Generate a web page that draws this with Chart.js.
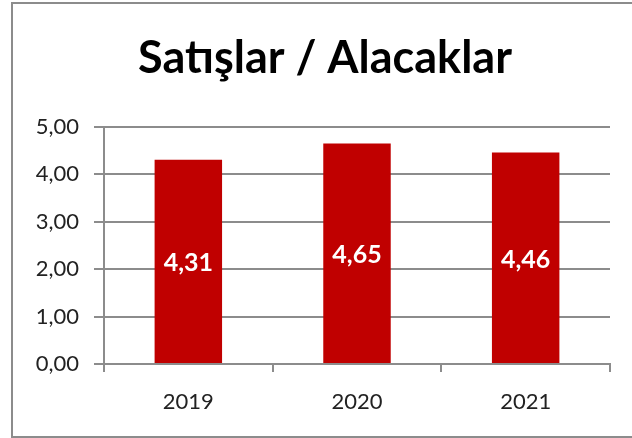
<!DOCTYPE html>
<html>
<head>
<meta charset="utf-8">
<script src="https://cdn.jsdelivr.net/npm/chart.js@4/dist/chart.umd.min.js"></script>
<style>
  html, body { margin: 0; padding: 0; background: #fff; }
  #wrap { position: relative; width: 632px; height: 438px; }
</style>
</head>
<body>
<div id="wrap"><canvas id="c" width="632" height="438"></canvas></div>
<script>
const categories = ['2019', '2020', '2021'];
const values = [4.31, 4.65, 4.46];
const yTicks = [0, 1, 2, 3, 4, 5];
const titleText = 'Satışlar / Alacaklar';

const fmt = v => v.toFixed(2).replace('.', ',');
const FONT = 'Lato, Carlito, Calibri, sans-serif';

const borderPlugin = {
  id: 'outerBorder',
  beforeDraw(chart) {
    const ctx = chart.ctx;
    ctx.save();
    ctx.fillStyle = '#fff';
    ctx.fillRect(0, 0, chart.width, chart.height);
    ctx.strokeStyle = '#8c8c8c';
    ctx.lineWidth = 2;
    ctx.strokeRect(12, 3, 624, 434);
    ctx.restore();
  }
};

const titlePlugin = {
  id: 'chartTitle',
  afterDraw(chart) {
    const ctx = chart.ctx;
    ctx.save();
    ctx.fillStyle = '#000';
    ctx.font = 'bold 45px ' + FONT;
    ctx.textAlign = 'center';
    ctx.textBaseline = 'alphabetic';
    ctx.fillText(titleText, 325, 73);
    ctx.restore();
  }
};

const labelPlugin = {
  id: 'barLabels',
  afterDatasetsDraw(chart) {
    const ctx = chart.ctx;
    const meta = chart.getDatasetMeta(0);
    ctx.save();
    ctx.fillStyle = '#ffffff';
    ctx.font = 'bold 25px ' + FONT;
    ctx.textAlign = 'center';
    ctx.textBaseline = 'middle';
    meta.data.forEach((bar, i) => {
      const p = bar.getProps(['x', 'y', 'base'], true);
      ctx.fillText(fmt(chart.data.datasets[0].data[i]), p.x, (p.y + p.base) / 2 + 2);
    });
    ctx.restore();
  }
};

new Chart(document.getElementById('c'), {
  type: 'bar',
  data: {
    labels: categories,
    datasets: [{
      data: values,
      backgroundColor: '#c00000',
      borderWidth: 0,
      categoryPercentage: 1,
      barPercentage: 0.4
    }]
  },
  options: {
    responsive: false,
    animation: false,
    devicePixelRatio: 1,
    layout: { padding: { left: 0, right: 22, top: 127, bottom: 0 } },
    plugins: {
      legend: { display: false },
      tooltip: { enabled: false },
      title: { display: false }
    },
    scales: {
      y: {
        min: 0,
        max: 5,
        afterBuildTicks(scale) { scale.ticks = yTicks.map(v => ({ value: v })); },
        afterFit(scale) { scale.width = 104; },
        ticks: {
          color: '#222',
          font: { family: FONT, size: 22 },
          padding: 15,
          callback: v => fmt(v)
        },
        grid: { color: '#8c8c8c', lineWidth: 2, tickLength: 10, drawTicks: true },
        border: { color: '#8c8c8c', width: 2 }
      },
      x: {
        afterFit(scale) { scale.height = 74; },
        ticks: {
          color: '#222',
          font: { family: FONT, size: 22 },
          padding: 17
        },
        grid: { display: true, drawOnChartArea: false, drawTicks: true, tickLength: 8, color: '#8c8c8c', lineWidth: 2, offset: true },
        border: { color: '#8c8c8c', width: 2 }
      }
    }
  },
  plugins: [borderPlugin, labelPlugin, titlePlugin]
});
</script>
</body>
</html>
